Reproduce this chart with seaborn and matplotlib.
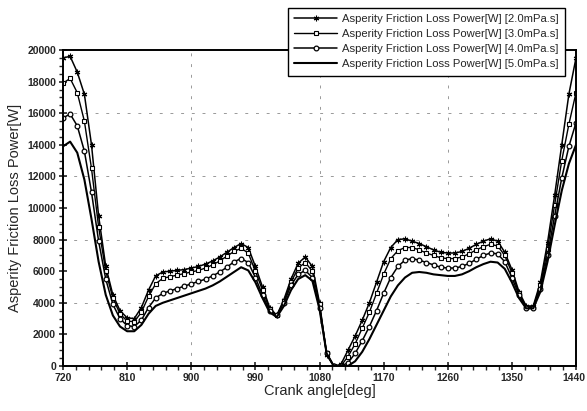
import matplotlib
matplotlib.use("Agg")
import matplotlib.pyplot as plt
from matplotlib.ticker import MultipleLocator
from matplotlib.transforms import ScaledTranslation
import pandas as pd
import seaborn as sns

# Crank angle samples [deg]
crank_angle = list(range(720, 1441, 10))

# Asperity friction loss power [W] for each oil viscosity
power_2_0 = [19500, 19600, 18600, 17200, 14000, 9500, 6300, 4500, 3500, 3050,
             3000, 3700, 4800, 5700, 5950, 6000, 6050, 6100, 6200, 6300,
             6450, 6650, 6900, 7200, 7500, 7750, 7500, 6300, 5000, 3700,
             3200, 4200, 5500, 6500, 6900, 6300, 4000, 700, 0, 100,
             1000, 1900, 2900, 4000, 5300, 6600, 7500, 8000, 8050, 7900,
             7750, 7550, 7350, 7200, 7150, 7150, 7250, 7450, 7700, 7900,
             8050, 7900, 7200, 6100, 4700, 3800, 3800, 5300, 7800, 10800,
             14000, 17200, 19500]
power_3_0 = [17900, 18200, 17300, 15500, 12500, 8800, 6000, 4300, 3300, 2850,
             2800, 3400, 4400, 5200, 5550, 5650, 5750, 5850, 5950, 6050,
             6200, 6400, 6650, 6950, 7250, 7450, 7150, 6000, 4800, 3600,
             3200, 4100, 5300, 6200, 6550, 6000, 3900, 800, 0, 0,
             600, 1400, 2400, 3400, 4600, 5800, 6800, 7300, 7500, 7500,
             7350, 7150, 7000, 6850, 6800, 6800, 6900, 7100, 7350, 7550,
             7700, 7600, 7000, 5900, 4600, 3750, 3750, 5100, 7400, 10200,
             13000, 15300, 17300]
power_4_0 = [15700, 15950, 15200, 13600, 11000, 7900, 5500, 3900, 3000, 2550,
             2500, 2900, 3700, 4300, 4600, 4750, 4900, 5050, 5200, 5350,
             5500, 5700, 5950, 6250, 6600, 6800, 6550, 5600, 4500, 3500,
             3200, 4000, 5100, 5800, 6050, 5600, 3700, 800, 0, 0,
             200, 800, 1600, 2500, 3500, 4600, 5600, 6300, 6700, 6800,
             6700, 6550, 6400, 6250, 6200, 6200, 6300, 6500, 6750, 7000,
             7150, 7100, 6600, 5600, 4500, 3700, 3700, 4900, 7000, 9500,
             11900, 13900, 15400]
power_5_0 = [13900, 14200, 13500, 11800, 9300, 6600, 4500, 3200, 2500, 2200,
             2200, 2600, 3300, 3800, 4000, 4150, 4300, 4450, 4600, 4750,
             4900, 5100, 5350, 5650, 5950, 6250, 6050, 5300, 4300, 3400,
             3100, 3800, 4800, 5500, 5750, 5400, 3600, 800, 0, 0,
             0, 300, 900, 1700, 2600, 3500, 4400, 5100, 5600, 5900,
             5950, 5900, 5800, 5750, 5700, 5700, 5800, 6000, 6250, 6450,
             6600, 6550, 6150, 5300, 4300, 3650, 3650, 4700, 6600, 8900,
             11100, 12800, 14000]

series_labels = [
    "Asperity Friction Loss Power[W] [2.0mPa.s]",
    "Asperity Friction Loss Power[W] [3.0mPa.s]",
    "Asperity Friction Loss Power[W] [4.0mPa.s]",
    "Asperity Friction Loss Power[W] [5.0mPa.s]",
]
series_values = [power_2_0, power_3_0, power_4_0, power_5_0]

x_ticks = [720, 810, 900, 990, 1080, 1170, 1260, 1350, 1440]
y_ticks = list(range(0, 20001, 2000))

sns.set_style("white")
plt.rcParams["font.family"] = ["Liberation Sans", "DejaVu Sans"]

fig = plt.figure(figsize=(5.87, 4.11), dpi=100)
ax = fig.add_axes([63 / 587, 1 - 366 / 411, 513 / 587, 316 / 411])

styles = [
    dict(marker=(6, 2, 0), markersize=4.0, markeredgewidth=0.8, linewidth=1.1),
    dict(marker="s", markersize=3.0, markerfacecolor="white",
         markeredgewidth=0.8, linewidth=1.0),
    dict(marker="o", markersize=3.4, markerfacecolor="white",
         markeredgewidth=0.9, linewidth=1.1),
    dict(marker=None, linewidth=1.5),
]

for label, values, st in zip(series_labels, series_values, styles):
    df = pd.DataFrame({"angle": crank_angle, "power": values})
    sns.lineplot(data=df, x="angle", y="power", ax=ax, color="black",
                 markeredgecolor="black", label=label, **st)

ax.set_xlim(720, 1440)
ax.set_ylim(0, 20000)
ax.set_xticks(x_ticks)
ax.set_yticks(y_ticks)
ax.xaxis.set_minor_locator(MultipleLocator(18))
ax.yaxis.set_minor_locator(MultipleLocator(500))
ax.tick_params(axis="both", which="major", direction="inout", length=6,
               width=1.2, labelsize=7.5, pad=2, bottom=True, left=True)
ax.tick_params(axis="both", which="minor", direction="out", length=3,
               width=1.0, bottom=True, left=True)
for lbl in ax.get_xticklabels() + ax.get_yticklabels():
    lbl.set_fontweight("bold")
# keep the last x label inside the canvas
last = ax.get_xticklabels()[-1]
last.set_transform(last.get_transform() +
                   ScaledTranslation(-2 / 100, 0, fig.dpi_scale_trans))

for spine in ax.spines.values():
    spine.set_color("black")
    spine.set_linewidth(1.4)

# sparse dashed reference grid
for gx in [900, 1080, 1260]:
    ax.axvline(gx, color="#999999", linestyle=(0, (3, 8)), linewidth=0.7,
               zorder=0)
for gy in [4000, 8000, 12000, 16000]:
    ax.axhline(gy, color="#999999", linestyle=(0, (3, 8)), linewidth=0.7,
               zorder=0)

ax.set_xlabel("Crank angle[deg]", fontsize=10.5, labelpad=1)
ax.set_ylabel("Asperity Friction Loss Power[W]", fontsize=10.5, labelpad=4)

handles, labels = ax.get_legend_handles_labels()
ax.get_legend().remove()
leg = fig.legend(handles, labels, loc="upper right",
                 bbox_to_anchor=(565 / 587, 1 - 8 / 411),
                 fontsize=8.1, frameon=True, fancybox=False, framealpha=1,
                 edgecolor="black", handlelength=3.8, handletextpad=0.45,
                 labelspacing=0.45, borderpad=0.55, borderaxespad=0)
leg.get_frame().set_linewidth(1.0)

fig.savefig("out.png", dpi=100)
